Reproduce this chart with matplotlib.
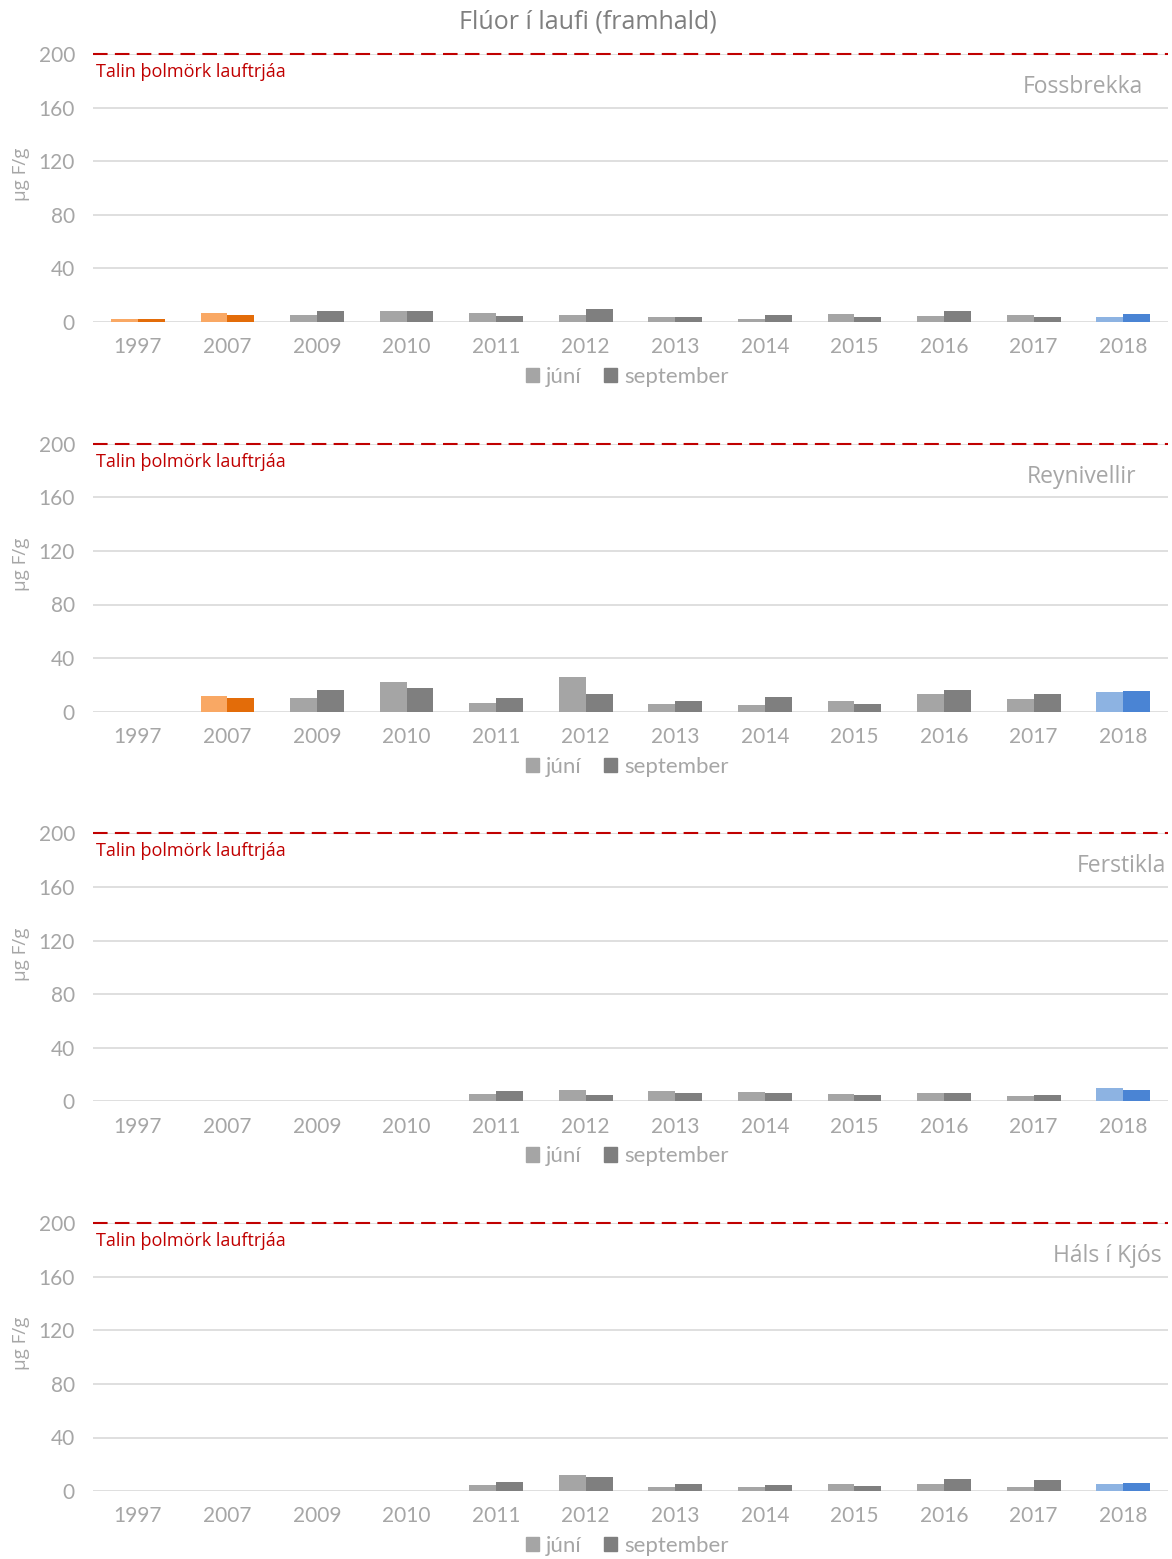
import numpy as np
import matplotlib.pyplot as plt
from matplotlib.patches import Patch

# ár og gildi (µg F/g), nan = engin mæling
years = ['1997', '2007', '2009', '2010', '2011', '2012', '2013', '2014', '2015', '2016', '2017', '2018']
sites = ['Fossbrekka', 'Reynivellir', 'Ferstikla', 'Háls í Kjós']
nan = np.nan

juni = [
    [2, 6.5, 5, 8, 6.5, 5.5, 3.5, 2.5, 6, 4.5, 5, 3.5],
    [nan, 12, 10.5, 22.5, 6.7, 26, 5.7, 5.2, 7.8, 13.4, 9.5, 14.5],
    [nan, nan, nan, nan, 5.4, 8.4, 7.9, 7, 5.4, 6.2, 3.7, 10.2],
    [nan, nan, nan, nan, 4.5, 11.7, 3.2, 3, 5.4, 5, 3, 5],
]
september = [
    [2, 5, 8.5, 8, 4.5, 9.5, 3.5, 5, 3.5, 8, 3.5, 6],
    [nan, 10.5, 16.5, 17.5, 10.2, 13.2, 8.2, 11, 6, 16.4, 13.4, 15.5],
    [nan, nan, nan, nan, 7.7, 4.7, 6.4, 6.2, 5, 6, 5, 8.2],
    [nan, nan, nan, nan, 6.7, 10.5, 5.4, 4.7, 4, 9, 8.2, 6.2],
]
threshold = 200

c_juni = ['#F9A864', '#F9A864'] + ['#A5A5A5'] * 9 + ['#8DB3E2']
c_sept = ['#E36C09', '#E36C09'] + ['#7F7F7F'] * 9 + ['#4A84D4']

W, H = 1172, 1559
fig = plt.figure(figsize=(W / 100, H / 100), dpi=100)
plt.rcParams['font.family'] = ['Lato', 'DejaVu Sans']

fig.text(588 / W, 1 - 22 / H, 'Flúor í laufi (framhald)', ha='center', va='center',
         fontsize=18, color='#7F7F7F', family=['Open Sans', 'DejaVu Sans'])

name_x = [1143, 1136, 1166, 1162]
x = np.arange(len(years))
bw = 0.3

for i in range(4):
    top = 54 + i * 389.7
    ax = fig.add_axes([93 / W, 1 - (top + 268) / H, 1075 / W, 268 / H])
    ax.bar(x - bw / 2, juni[i], bw, color=c_juni, label='júní', zorder=3)
    ax.bar(x + bw / 2, september[i], bw, color=c_sept, label='september', zorder=3)
    ax.set_ylim(0, 200)
    ax.set_xlim(-0.5, len(years) - 0.5)
    ax.set_yticks([0, 40, 80, 120, 160, 200])
    ax.grid(axis='y', color='#D9D9D9', linewidth=1.2, zorder=0)
    ax.axhline(threshold, color='#C00000', linestyle=(0, (7, 3.5)), linewidth=1.5,
               clip_on=False, zorder=4)
    ax.text(-0.47, 186.5, 'Talin þolmörk lauftrjáa', color='#C00000', fontsize=13,
            va='center', ha='left', family=['Open Sans', 'DejaVu Sans'])
    ax.text((name_x[i] - 93) / 1075, (268 - 33) / 268, sites[i], transform=ax.transAxes,
            ha='right', va='center', fontsize=16.5, color='#A6A6A6',
            family=['Open Sans', 'DejaVu Sans'])
    for s in ax.spines.values():
        s.set_visible(False)
    ax.set_xticks(x)
    ax.set_xticklabels(years)
    ax.tick_params(length=0, labelsize=15, labelcolor='#A6A6A6')
    ax.tick_params(axis='x', pad=11)
    ax.tick_params(axis='y', pad=13)
    ax.text(-0.067, 0.55, 'µg F/g', rotation=90, transform=ax.transAxes, ha='center',
            va='center', fontsize=13.5, color='#A6A6A6', family=['Open Sans', 'DejaVu Sans'])
    handles = [Patch(color='#A5A5A5', label='júní'), Patch(color='#7F7F7F', label='september')]
    leg = ax.legend(handles=handles, loc='center', bbox_to_anchor=(0.497, -0.205), ncol=2,
                    frameon=False, fontsize=16, handlelength=0.6, handleheight=0.6,
                    handletextpad=0.3, columnspacing=1.0)
    for t in leg.get_texts():
        t.set_color('#A6A6A6')

fig.savefig('out.png', dpi=100)
